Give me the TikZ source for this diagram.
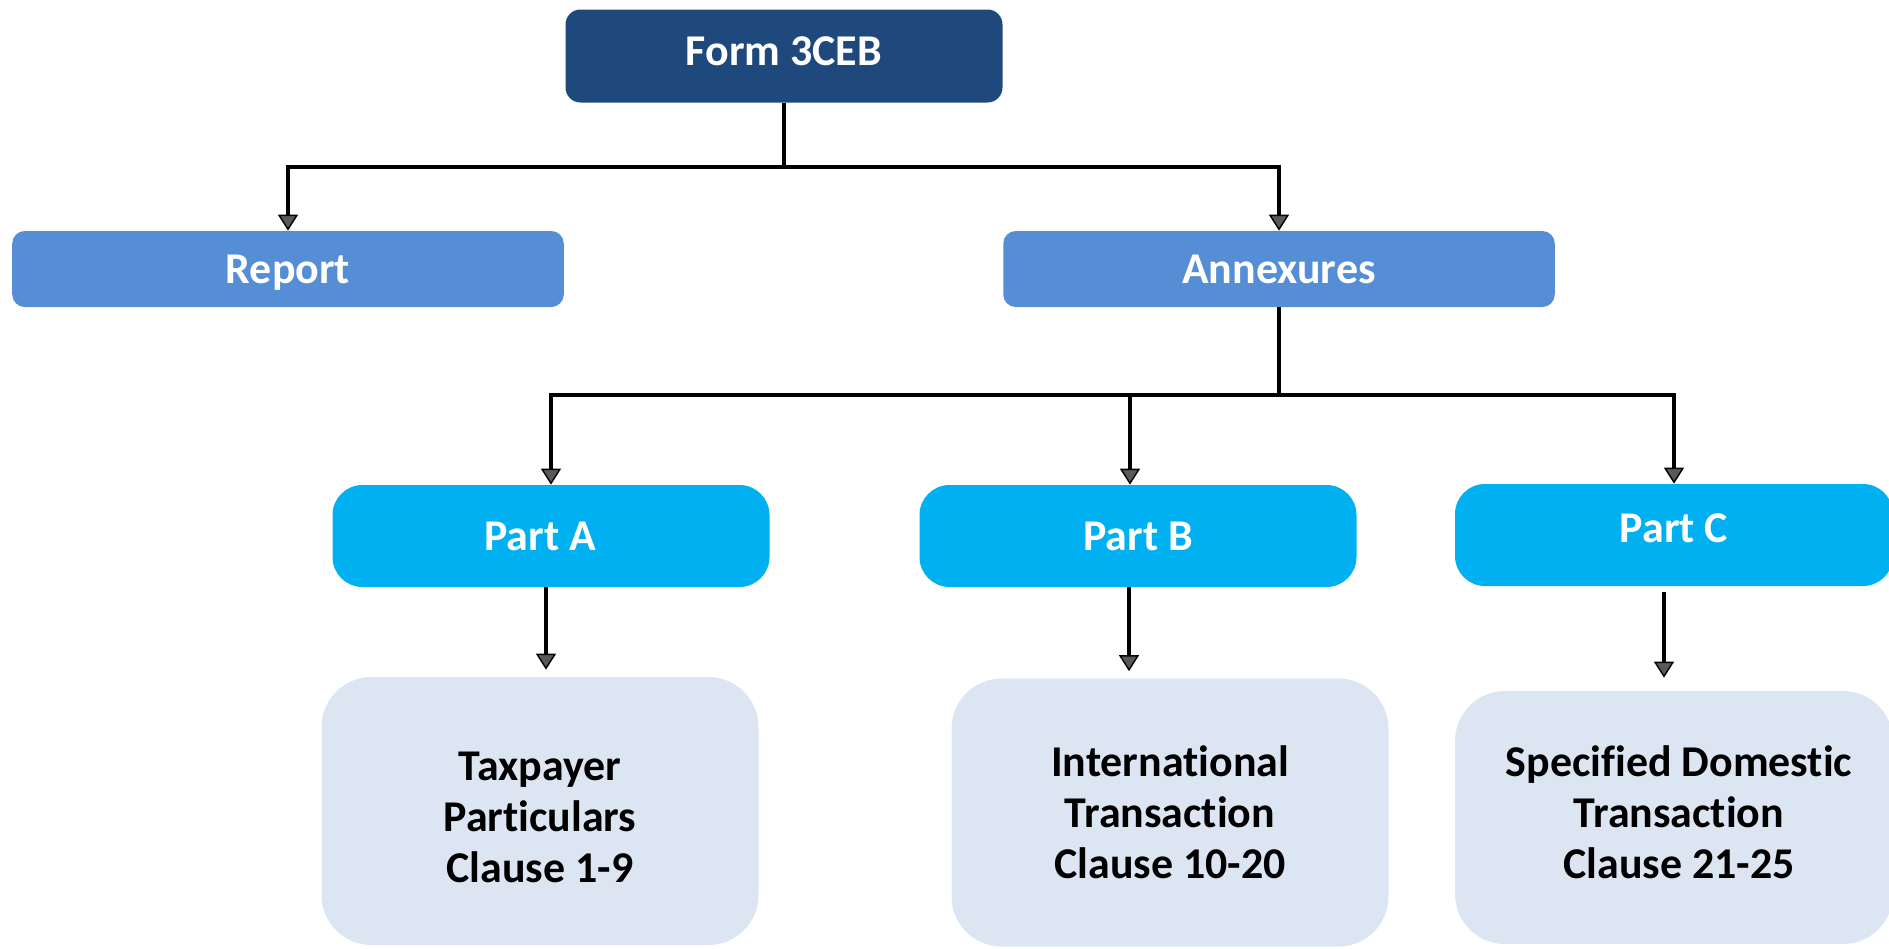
\documentclass[tikz,border=0pt]{standalone}
\usepackage{fontspec}
\setmainfont{Carlito}[Ligatures=NoCommon]
\usetikzlibrary{arrows.meta}
\definecolor{formblue}{RGB}{31,73,125}
\definecolor{midblue}{RGB}{85,142,213}
\definecolor{partblue}{RGB}{0,176,240}
\definecolor{paleblue}{RGB}{220,230,242}
\tikzset{box/.style = {inner sep=0pt, align=center, font=\fontsize{25}{29}\selectfont\bfseries},
         topbox/.style = {box, fill=formblue, text=white, rounded corners=0.3cm, minimum width=8.74cm, minimum height=1.86cm},
         secbox/.style = {box, fill=midblue, text=white, rounded corners=0.25cm, minimum width=11.03cm, minimum height=1.52cm},
         partbox/.style = {box, fill=partblue, text=white, rounded corners=0.6cm, minimum width=8.74cm, minimum height=2.04cm},
         clausebox/.style = {box, fill=paleblue, text=black, rounded corners=1cm, minimum width=8.74cm},
         ln/.style = {line width=2.2pt},
         arr/.style = {ln, -{Triangle[length=0.32cm,width=0.4cm,fill=gray!70!black,line width=0.8pt]}}}

\begin{document}
\begin{tikzpicture}
\useasboundingbox (0,0) rectangle (37.78,-18.96);
\node[topbox, text depth=0.2cm] (form) at (15.68,-1.12) {Form 3CEB};
\node[secbox, text depth=0pt] (report) at (5.76,-5.38) {Report};
\node[secbox] (annex) at (25.58,-5.38) {Annexures};
\node[partbox] (partA) at (11.02,-10.72) {Part A\hspace*{0.44cm}};
\node[partbox] (partB) at (22.76,-10.72) {Part B};
\node[partbox, minimum width=8.76cm, text depth=0.28cm] (partC) at (33.48,-10.70) {Part C};
\node[clausebox, minimum height=5.36cm] (clauseA) at (10.80,-16.22) {\\[-0.2cm]Taxpayer\\Particulars\\Clause 1-9};
\node[clausebox, minimum height=5.36cm] (clauseB) at (23.40,-16.25) {International\\Transaction\\Clause 10-20};
\node[clausebox, minimum height=5.06cm, minimum width=8.76cm] (clauseC) at (33.48,-16.35) {\hspace*{0.2cm}Specified Domestic\\\hspace*{0.2cm}Transaction\\\hspace*{0.2cm}Clause 21-25\\[-0.82cm]};

% form to report and annexures
\coordinate (split) at (15.68,-3.34);
\draw[ln] (form.south) -- (split);
\draw[arr] (split) -| (report.north);
\draw[arr] (split) -| (annex.north);

% annexures to the parts
\coordinate (bus) at (25.58,-7.90);
\coordinate (busB) at (22.60,-7.90);
\draw[ln] (annex.south) -- (bus);
\draw[arr] (bus) -| (partA.north);
\draw[arr] (bus) -| (partC.north);
\draw[ln] (bus) -- (bus -| partA.north);
\draw[arr] (busB) -- (busB |- partB.north);

% parts to clauses
\draw[arr, shorten >=0.14cm] ([xshift=-0.1cm]partA.south) -- ([xshift=-0.1cm]partA.south |- clauseA.north);
\draw[arr, shorten >=0.14cm] ([xshift=-0.18cm]partB.south) -- ([xshift=-0.18cm]partB.south |- clauseB.north);
\draw[arr, shorten <=0.12cm, shorten >=0.26cm] ([xshift=-0.2cm]partC.south) -- ([xshift=-0.2cm]partC.south |- clauseC.north);
\end{tikzpicture}
\end{document}
